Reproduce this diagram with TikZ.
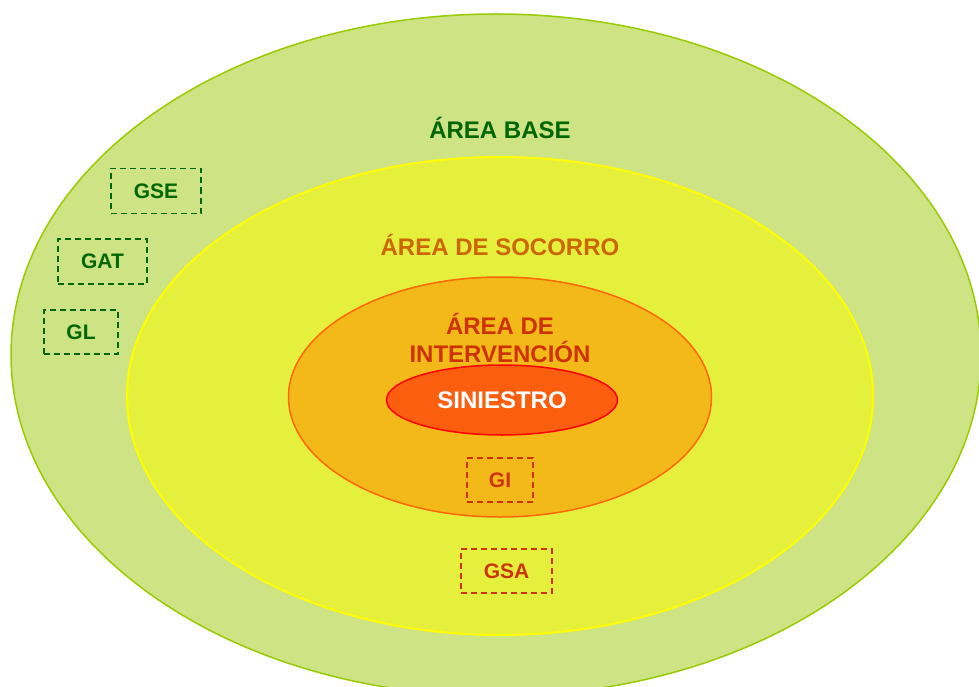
\documentclass[tikz,border=0pt]{standalone}
\usepackage{fontspec}
\setmainfont{Liberation Sans}
\usetikzlibrary{shapes.geometric}
\definecolor{baseFill}{HTML}{CDE384}
\definecolor{baseLine}{HTML}{99CC00}
\definecolor{socFill}{HTML}{E5F03D}
\definecolor{socLine}{HTML}{FFFF00}
\definecolor{intFill}{HTML}{F2B918}
\definecolor{intLine}{HTML}{FF6600}
\definecolor{sinFill}{HTML}{FA5E0E}
\definecolor{sinLine}{HTML}{FF0000}
\definecolor{darkGreen}{HTML}{006600}
\definecolor{socText}{HTML}{CC6600}
\definecolor{redText}{HTML}{CC3300}
\tikzset{
  zone/.style={ellipse, inner sep=0pt, outer sep=0pt},
  lbl/.style={font=\fontsize{24}{28}\selectfont\bfseries, inner sep=0pt, align=center},
  grp/.style={draw, dashed, dash pattern=on 6pt off 4pt, line width=1.8pt, inner sep=0pt,
              font=\fontsize{21}{24}\selectfont\bfseries},
}
\begin{document}
\begin{tikzpicture}[x=1pt,y=-1pt]
\useasboundingbox (0,0) rectangle (979,687);
\clip (0,0) rectangle (979,687);
\fill[white] (0,0) rectangle (979,687);
\node[zone, draw=baseLine, fill=baseFill, line width=1.5pt, minimum width=970pt, minimum height=682pt] (base) at (496,355) {};
\node[zone, draw=socLine, fill=socFill, line width=2pt, minimum width=746pt, minimum height=478pt] (soc) at (500,396) {};
\node[zone, draw=intLine, fill=intFill, line width=1.5pt, minimum width=423pt, minimum height=240pt] (int) at (500,397) {};
\node[zone, draw=sinLine, fill=sinFill, line width=1.5pt, minimum width=231pt, minimum height=70pt,
      text=white, font=\fontsize{24}{28}\selectfont\bfseries] (sin) at (502,400) {SINIESTRO};
\node[lbl, text=darkGreen] (tbase) at (500,128) {ÁREA BASE};
\node[lbl, text=socText] (tsoc) at (500,245) {ÁREA DE SOCORRO};
\node[lbl, text=redText] (tint) at (500,338) {ÁREA DE\\INTERVENCIÓN};
\node[grp, draw=darkGreen, text=darkGreen, minimum width=90pt, minimum height=45pt] (gse) at (156,191) {GSE};
\node[grp, draw=darkGreen, text=darkGreen, minimum width=89pt, minimum height=45pt] (gat) at (102.5,261.5) {GAT};
\node[grp, draw=darkGreen, text=darkGreen, minimum width=74pt, minimum height=44pt] (gl) at (81,332) {GL};
\node[grp, draw=redText, text=redText, minimum width=66pt, minimum height=44pt] (gi) at (500,480) {GI};
\node[grp, draw=redText, text=redText, minimum width=91pt, minimum height=44pt] (gsa) at (506.5,571) {GSA};
\end{tikzpicture}
\end{document}
